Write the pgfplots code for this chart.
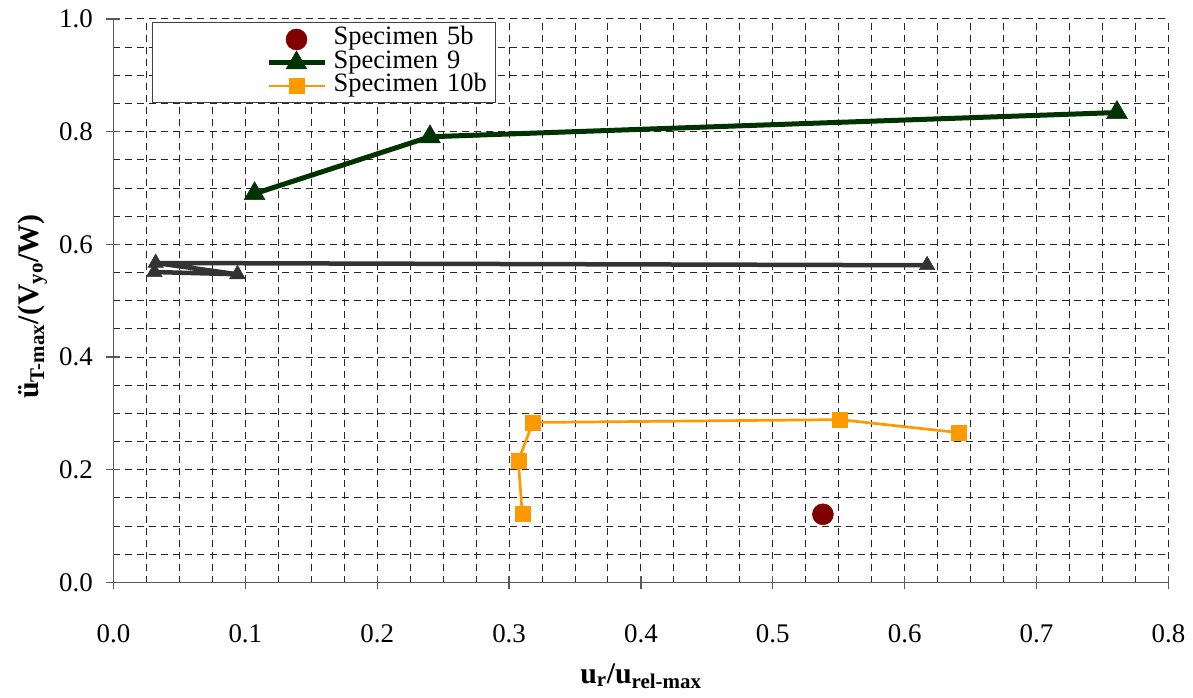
\documentclass[border=0pt]{standalone}
\usepackage{fontspec}
\setmainfont{Liberation Serif}
\usepackage{pgfplots}
\pgfplotsset{compat=1.18}
\definecolor{c5b}{HTML}{800000}
\definecolor{c9}{HTML}{003300}
\definecolor{cg}{HTML}{333333}
\definecolor{c10}{HTML}{FF9900}
\begin{document}
\begin{tikzpicture}
\begin{axis}[
  scale only axis, width=1055bp, height=563.5bp,
  xmin=0, xmax=0.8, ymin=0, ymax=1,
  xtick={0,0.1,0.2,0.3,0.4,0.5,0.6,0.7,0.8},
  ytick={0,0.2,0.4,0.6,0.8,1.0},
  minor x tick num=3, minor y tick num=3,
  grid=both,
  major grid style={dash pattern=on 7bp off 5bp, line width=1bp, black!85},
  minor grid style={dash pattern=on 7bp off 5bp, line width=1bp, black!85},
  axis x line*=bottom, axis y line*=left,
  axis line style={-, line width=1.3bp, black!65},
  tick align=center, major tick length=14bp, minor tick length=0bp,
  tick style={line width=1.2bp, black!65},
  /pgf/number format/.cd, fixed, fixed zerofill, precision=1, assume math mode=true, /pgfplots/.cd,
  tick label style={font=\fontsize{27}{32}\selectfont},
  xticklabel style={anchor=base, inner sep=0pt, yshift=-52.5bp},
  yticklabel style={anchor=east, inner sep=0pt, xshift=-13.5bp},
  xlabel={\textbf{u\textsubscript{r}/u\textsubscript{rel-max}}},
  ylabel={\textbf{ü\textsubscript{T-max}/(V\textsubscript{yo}/W)}},
  label style={font=\fontsize{30}{36}\selectfont},
  xlabel style={at={([yshift=-100.5bp]rel axis cs:0.5,0)}, anchor=base},
  ylabel style={at={([xshift=-74.5bp,yshift=-6bp]rel axis cs:0,0.5)}, anchor=base},
  legend style={at={(rel axis cs:0,1)}, anchor=north west, xshift=38.5bp, yshift=-3bp,
    draw=black!75, line width=1bp, fill=white, inner xsep=4bp, inner ysep=5.5bp,
    font=\fontsize{26.6}{30}\selectfont,
    nodes={inner sep=0pt, text height=17bp, text depth=6bp, text width=158bp},
    column sep=6.7bp, row sep=0pt},
  legend cell align=left,
  legend image code/.code={\path[draw=none,fill=none] (-112bp,0) -- (0bp,0);
    \draw[mark repeat=2,mark phase=2,#1] plot coordinates {(0bp,0bp) (28bp,0bp) (56bp,0bp)};},
]
\addplot[only marks, mark=*, mark size=10.5bp, color=c5b, mark options={line width=0.5bp}]
  coordinates {(0.538,0.121)};
\addlegendentry{Specimen 5b}
\addplot[c9, line width=5bp, mark=triangle*, mark size=12bp, mark options={solid, line width=0.5bp}]
  coordinates {(0.107,0.690) (0.240,0.791) (0.761,0.834)};
\addlegendentry{Specimen 9}
\addplot[c10, line width=2.7bp, mark=square*, mark size=7.5bp, mark options={solid, line width=0.5bp}]
  coordinates {(0.310,0.122) (0.307,0.216) (0.318,0.284) (0.551,0.289) (0.641,0.266)};
\addlegendentry{Specimen 10b}
\addplot[forget plot, cg, line width=4.5bp, mark=triangle*, mark size=9bp, mark options={solid, line width=0.5bp}]
  coordinates {(0.031,0.551) (0.094,0.547) (0.032,0.567) (0.617,0.563)};
\end{axis}
\pgfresetboundingbox
\path[use as bounding box] (-113.5bp,-115.5bp) rectangle (1079.5bp,582.5bp);
\end{tikzpicture}
\end{document}
